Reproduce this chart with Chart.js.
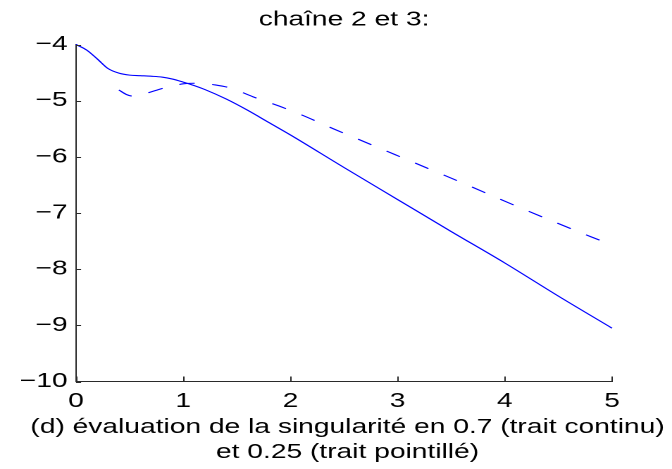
<!doctype html>
<html lang="fr">
<head>
<meta charset="utf-8">
<title>chaîne 2 et 3</title>
<style>
  html, body { margin: 0; padding: 0; background: #fff; overflow: hidden; }
  /* the figure is drawn narrow and stretched sideways, like the exported plot */
  #wrap { width: 477px; height: 469px; transform: scaleX(1.40881); transform-origin: 0 0; }
  canvas { display: block; }
</style>
</head>
<body>
<div id="wrap"><canvas id="c" width="477" height="469"></canvas></div>

<script src="https://cdn.jsdelivr.net/npm/chart.js"></script>
<script>
// singularité en 0.7 (trait continu)
const xContinu = [0, 0.1, 0.2, 0.3, 0.4, 0.5, 0.6, 0.7, 0.8, 0.9, 1.0, 1.1, 1.2, 1.4, 1.6, 1.8, 2.0, 2.5, 3.0, 3.5, 4.0, 4.5, 5.0];
const yContinu = [-4.00, -4.10, -4.26, -4.43, -4.51, -4.545, -4.555, -4.565, -4.58, -4.615, -4.67, -4.73, -4.80, -4.97, -5.17, -5.39, -5.61, -6.19, -6.76, -7.33, -7.89, -8.48, -9.05];

// singularité en 0.25 (trait pointillé)
const xPointille = [0.40, 0.47, 0.53, 0.60, 0.69, 0.80, 0.90, 1.00, 1.10, 1.20, 1.30, 1.45, 1.65, 1.90, 2.10, 2.40, 2.70, 3.00, 3.30, 3.60, 4.00, 4.40, 4.80, 5.00];
const yPointille = [-4.81, -4.89, -4.92, -4.90, -4.85, -4.785, -4.74, -4.70, -4.69, -4.70, -4.72, -4.78, -4.93, -5.10, -5.25, -5.50, -5.74, -5.98, -6.22, -6.46, -6.79, -7.11, -7.42, -7.57];

const xTicks = [0, 1, 2, 3, 4, 5];
const yTicks = [-10, -9, -8, -7, -6, -5, -4];

const titre = 'chaîne 2 et 3:';
const legende = ['(d) évaluation de la singularité en 0.7 (trait continu)', 'et 0.25 (trait pointillé)'];

const BLEU = '#0000ff';
const AXE = '#2a2a2a';
const FONT = "'Liberation Sans', Arial, Helvetica, sans-serif";

const pts = (xs, ys) => xs.map((x, i) => ({ x, y: ys[i] }));

// MATLAB style ticks: short marks pointing into the plot
const inwardTicks = {
  id: 'inwardTicks',
  afterDatasetsDraw(chart) {
    const { ctx, chartArea: a, scales: { x, y } } = chart;
    ctx.save();
    ctx.strokeStyle = AXE;
    ctx.lineWidth = 1;
    ctx.beginPath();
    x.ticks.forEach(t => {
      const px = Math.round(x.getPixelForValue(t.value)) + 0.5;
      ctx.moveTo(px, a.bottom);
      ctx.lineTo(px, a.bottom - 5);
    });
    y.ticks.forEach(t => {
      const py = Math.round(y.getPixelForValue(t.value)) + 0.5;
      ctx.moveTo(a.left, py);
      ctx.lineTo(a.left + 3.6, py);
    });
    ctx.stroke();
    ctx.restore();
  }
};

// the two-line caption under the axis; drawn by hand so it is not squeezed to the axis width
const caption = {
  id: 'caption',
  afterDraw(chart) {
    const { ctx, chartArea: a } = chart;
    const cx = (a.left + a.right) / 2 + 2.5;
    ctx.save();
    ctx.fillStyle = '#000';
    ctx.font = `20px ${FONT}`;
    ctx.textAlign = 'center';
    ctx.textBaseline = 'alphabetic';
    legende.forEach((line, i) => ctx.fillText(line, cx, a.bottom + 51.5 + i * 25));
    ctx.restore();
  }
};

new Chart(document.getElementById('c'), {
  type: 'line',
  data: {
    datasets: [
      {
        data: pts(xContinu, yContinu),
        borderColor: BLEU,
        borderWidth: 1.1,
        pointRadius: 0,
        cubicInterpolationMode: 'monotone',
        clip: 4
      },
      {
        data: pts(xPointille, yPointille),
        borderColor: BLEU,
        borderWidth: 1.1,
        borderDash: [11, 12.5],
        pointRadius: 0,
        cubicInterpolationMode: 'monotone',
        clip: 4
      }
    ]
  },
  options: {
    responsive: false,
    animation: false,
    devicePixelRatio: 2,
    layout: { padding: { left: 0, right: 42.6, top: 0, bottom: 0 } },
    plugins: {
      legend: { display: false },
      tooltip: { enabled: false },
      title: { display: false }
    },
    scales: {
      x: {
        type: 'linear',
        position: 'bottom',
        min: 0,
        max: 5,
        afterBuildTicks: s => { s.ticks = xTicks.map(v => ({ value: v })); },
        afterFit: s => { s.height = 87.5; },
        grid: { display: false, drawTicks: false },
        border: { display: true, color: AXE, width: 1 },
        ticks: { color: '#000', padding: 8, maxRotation: 0, font: { family: FONT, size: 20 } }
      },
      xt: {
        type: 'linear',
        position: 'top',
        afterFit: s => { s.height = 44.5; },
        grid: { display: false, drawTicks: false },
        border: { display: false },
        ticks: { display: false },
        title: {
          display: true,
          text: titre,
          color: '#000',
          padding: { top: 8, bottom: 0 },
          font: { family: FONT, size: 20, lineHeight: 1.2 }
        }
      },
      y: {
        type: 'linear',
        min: -10,
        max: -4,
        afterBuildTicks: s => { s.ticks = yTicks.map(v => ({ value: v })); },
        afterFit: s => { s.width = 53.95; },
        grid: { display: false, drawTicks: false },
        border: { display: true, color: AXE, width: 1 },
        ticks: {
          color: '#000',
          padding: 6,
          font: { family: FONT, size: 20 },
          callback: v => String(v).replace('-', '\u2212')
        }
      }
    }
  },
  plugins: [inwardTicks, caption]
});
</script>
</body>
</html>
